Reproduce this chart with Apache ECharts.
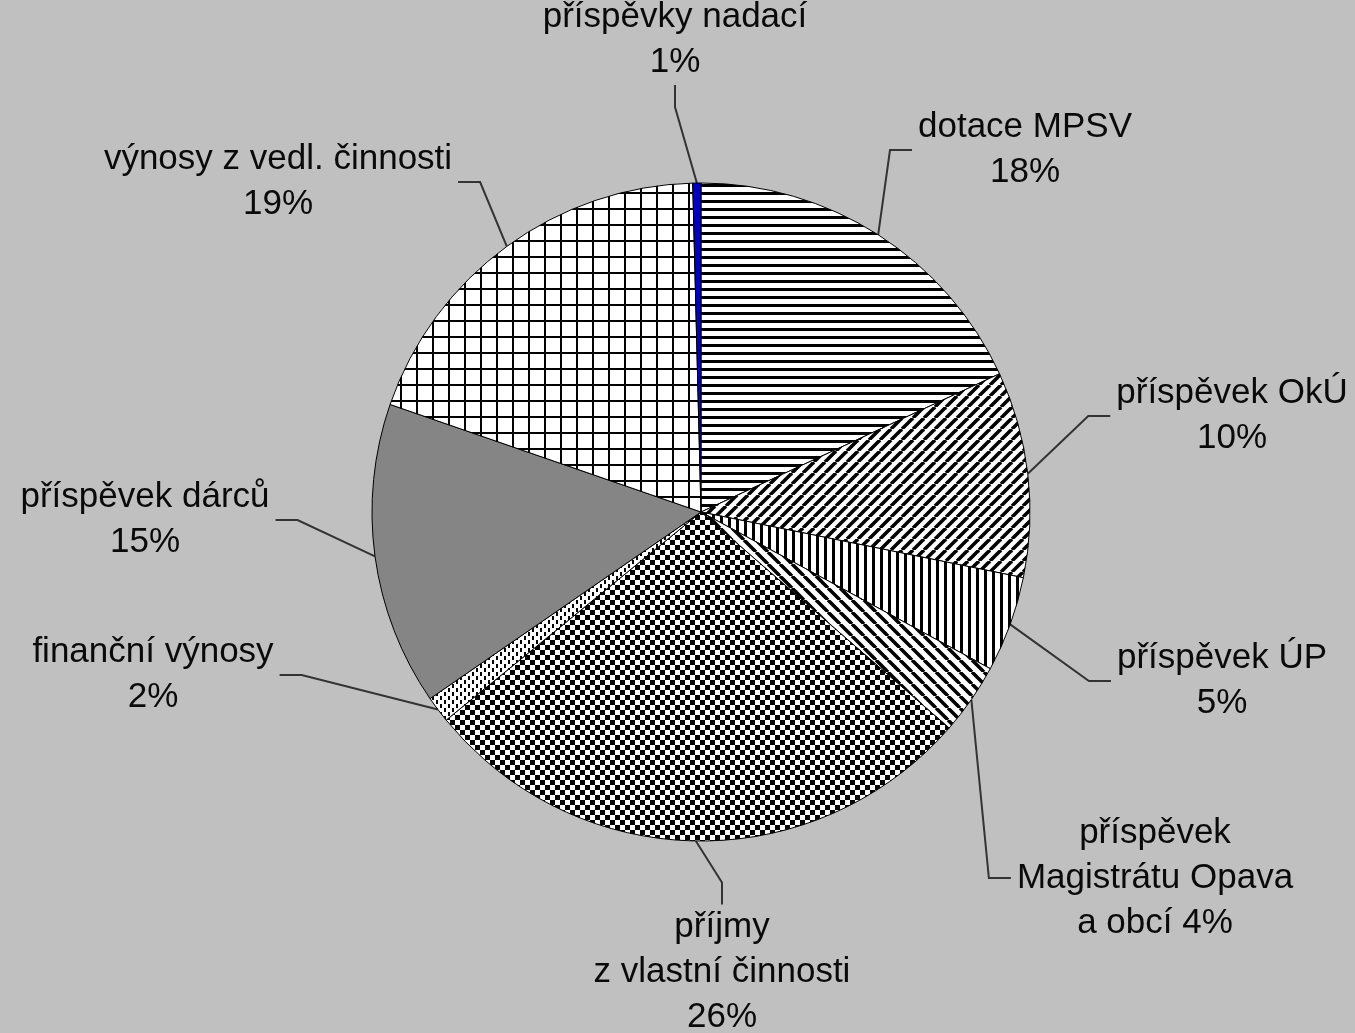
<!DOCTYPE html>
<html><head><meta charset="utf-8">
<script src="https://cdn.jsdelivr.net/npm/echarts@6/dist/echarts.min.js"></script>
<style>html,body{margin:0;padding:0;background:#c0c0c0;}#chart{width:1355px;height:1033px;}</style>
</head><body><div id="chart"></div>
<script>
// ---- data ----
const categories = ['dotace MPSV', 'příspěvek OkÚ', 'příspěvek ÚP', 'příspěvek\nMagistrátu Opava\na obcí',
  'příjmy\nz vlastní činnosti', 'finanční výnosy', 'příspěvek dárců', 'výnosy z vedl. činnosti', 'příspěvky nadací'];
const values = [18.1, 10.1, 4.7, 3.5, 27.7, 1.3, 14.9, 19.3, 0.4];
const percentLabels = ['18%', '10%', '5%', '4%', '26%', '2%', '15%', '19%', '1%'];
const labelJoins = ['\n', '\n', '\n', ' ', '\n', '\n', '\n', '\n', '\n'];

// ---- layout / style (not data) ----
const labelPos = [[1025,150],[1232,416],[1222,681],[1155,878],[722,972],[153,675],[145,520],[278,182],[675,40]];

function pattern(w, h, draw) {
  const c = document.createElement('canvas'); c.width = w; c.height = h;
  const g = c.getContext('2d');
  g.fillStyle = '#fff'; g.fillRect(0, 0, w, h);
  g.fillStyle = '#000'; g.strokeStyle = '#000';
  draw(g, w, h);
  return { image: c, repeat: 'repeat' };
}
const fills = [
  pattern(8, 8, (g) => { g.fillRect(0, 0, 8, 3); }),
  pattern(11, 11, (g, s) => { g.lineWidth = 3.5; for (let k = -1; k <= 1; k++) { g.beginPath(); g.moveTo(k*s, s); g.lineTo(k*s+s, 0); g.stroke(); } }),
  pattern(8, 8, (g) => { g.fillRect(0, 0, 3, 8); }),
  pattern(12, 12, (g, s) => { g.lineWidth = 3.5; for (let k = -1; k <= 1; k++) { g.beginPath(); g.moveTo(k*s, 0); g.lineTo(k*s+s, s); g.stroke(); } }),
  pattern(10, 10, (g) => { g.fillRect(0, 0, 5, 5); g.fillRect(5, 5, 5, 5); }),
  pattern(8, 8, (g) => { g.fillRect(0, 0, 2, 4); g.fillRect(4, 4, 2, 4); }),
  '#858585',
  pattern(16, 16, (g) => { g.fillRect(0, 0, 16, 2); g.fillRect(0, 0, 2, 16); }),
  '#0000c0'
];

const chart = echarts.init(document.getElementById('chart'), null, { renderer: 'canvas' });
chart.setOption({
  backgroundColor: '#c0c0c0',
  animation: false,
  series: [{
    type: 'pie',
    center: [701, 512],
    radius: 329,
    startAngle: 90,
    clockwise: true,
    avoidLabelOverlap: false,
    silent: true,
    data: categories.map((n, i) => ({
      name: n, value: values[i],
      itemStyle: { color: fills[i] }
    })),
    itemStyle: { borderColor: '#000', borderWidth: 1 },
    label: {
      show: true, position: 'outside',
      formatter: (p) => p.name + labelJoins[p.dataIndex] + percentLabels[p.dataIndex],
      color: '#0a0a0a', fontFamily: 'Liberation Sans, Arial, sans-serif', fontSize: 35, lineHeight: 45,
      align: 'center', padding: [0, 6]
    },
    labelLine: { show: true, length: 20, length2: 22, smooth: false, lineStyle: { color: '#333', width: 2 } },
    labelLayout: (params) => {
      const p = labelPos[params.dataIndex];
      return { x: p[0], y: p[1], align: 'center', verticalAlign: 'middle' };
    }
  }]
});
</script></body></html>
